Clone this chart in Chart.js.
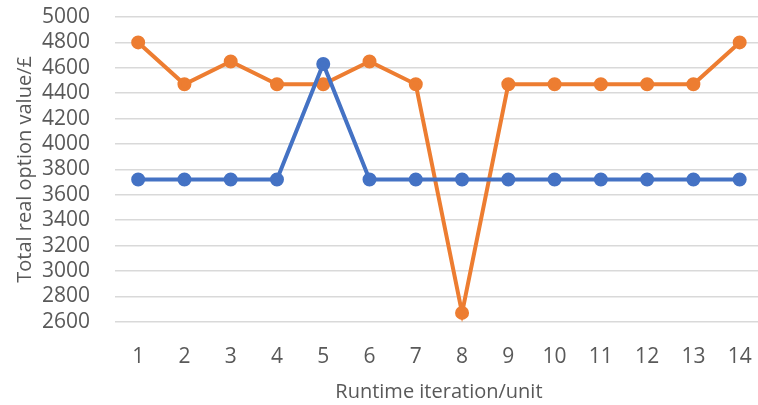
<!DOCTYPE html>
<html>
<head>
<meta charset="utf-8">
<script src="https://cdn.jsdelivr.net/npm/chart.js@4.4.1/dist/chart.umd.min.js"></script>
<style>
  html, body { margin: 0; padding: 0; background: #fff; overflow: hidden; }
  #wrap { width: 775px; height: 405px; }
</style>
</head>
<body>
<div id="wrap"><canvas id="optionChart"></canvas></div>
<script>
// Runtime iterations
const iterations = ["1", "2", "3", "4", "5", "6", "7", "8", "9", "10", "11", "12", "13", "14"];

// Total real option value per iteration
const blueSeries = [3720, 3720, 3720, 3720, 4630, 3720, 3720, 3720, 3720, 3720, 3720, 3720, 3720, 3720];
const orangeSeries = [4800, 4470, 4650, 4470, 4470, 4650, 4470, 2670, 4470, 4470, 4470, 4470, 4470, 4800];

const yMin = 2600;
const yMax = 5000;
const yStep = 200;

const textGray = "#595959";
const fontFamily = "'Open Sans', 'Noto Sans', sans-serif";

new Chart(document.getElementById("optionChart"), {
    type: "line",
    data: {
        labels: iterations,
        datasets: [
            {
                label: "Series 1",
                data: blueSeries,
                borderColor: "#4472C4",
                backgroundColor: "#4472C4",
                borderWidth: 4,
                pointRadius: 5,
                pointHoverRadius: 5,
                tension: 0,
            },
            {
                label: "Series 2",
                data: orangeSeries,
                borderColor: "#ED7D31",
                backgroundColor: "#ED7D31",
                borderWidth: 4,
                pointRadius: 5,
                pointHoverRadius: 5,
                tension: 0,
            },
        ],
    },
    options: {
        responsive: true,
        maintainAspectRatio: false,
        animation: false,
        layout: { padding: { top: 0, left: 13, right: 0, bottom: 1 } },
        plugins: {
            legend: { display: false },
            tooltip: { enabled: false },
        },
        scales: {
            x: {
                offset: true,
                grid: { display: false, drawTicks: false },
                border: { display: false },
                ticks: {
                    color: textGray,
                    font: { family: fontFamily, size: 21 },
                    padding: 23,
                    maxRotation: 0,
                    autoSkip: false,
                },
                title: {
                    display: true,
                    text: "Runtime iteration/unit",
                    color: textGray,
                    font: { family: fontFamily, size: 20 },
                    padding: { top: -13, bottom: 0 },
                },
            },
            y: {
                min: yMin,
                max: yMax,
                grid: { color: "#d9d9d9", lineWidth: 1.5, drawTicks: false },
                border: { display: false },
                afterFit: (scale) => {
                    scale.paddingTop = 17;
                    scale.paddingBottom = 0;
                },
                ticks: {
                    stepSize: yStep,
                    autoSkip: false,
                    color: textGray,
                    font: { family: fontFamily, size: 21 },
                    padding: 25,
                    callback: (value) => String(value),
                },
                title: {
                    display: true,
                    text: "Total real option value/£",
                    color: textGray,
                    font: { family: fontFamily, size: 20 },
                    padding: { top: 0, bottom: -20 },
                },
            },
        },
    },
});
</script>
</body>
</html>
